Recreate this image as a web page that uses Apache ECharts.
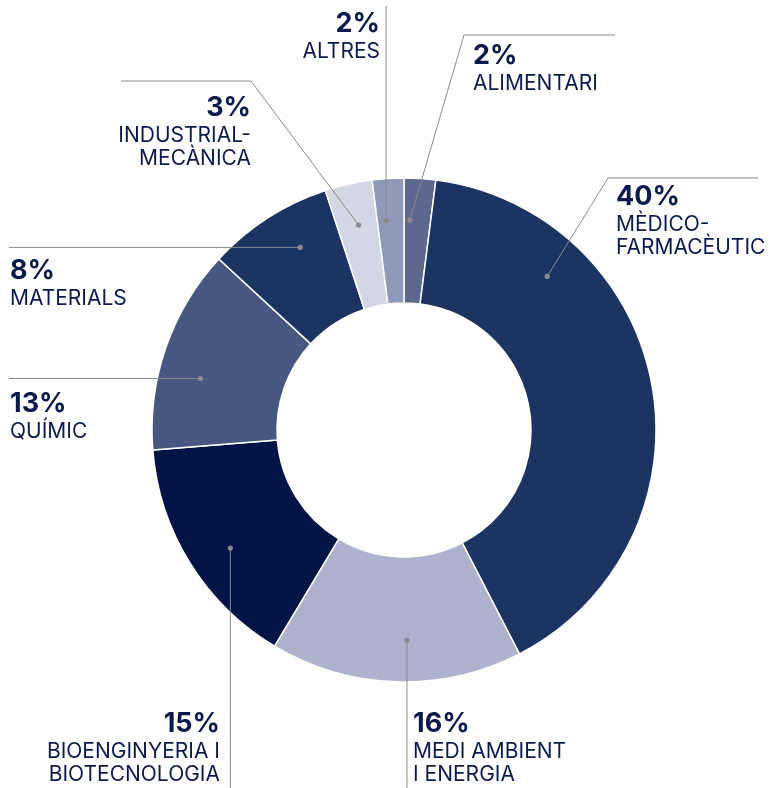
<!DOCTYPE html>
<html>
<head>
<meta charset="utf-8">
<script src="https://cdn.jsdelivr.net/npm/echarts@6/dist/echarts.min.js"></script>
<style>
html,body{margin:0;padding:0;background:#fff;}
#chart{width:771px;height:788px;}
</style>
</head>
<body>
<div id="chart"></div>
<script>
// dades
var sectors = ['ALIMENTARI', 'MÈDICO-\nFARMACÈUTIC', 'MEDI AMBIENT\nI ENERGIA', 'BIOENGINYERIA I\nBIOTECNOLOGIA', 'QUÍMIC', 'MATERIALS', 'INDUSTRIAL-\nMECÀNICA', 'ALTRES']
var percents = [2, 40, 16, 15, 13, 8, 3, 2]
var colors = ['#5d6890', '#1c3461', '#aeb2cc', '#021446', '#485781', '#1c3461', '#d3d6e5', '#8f99b8']

// posicio de les etiquetes i linies guia (angle del punt, colze, text)
var center = [404, 430]
var dotR = 210
var guides = [
	{ ang: 1.6,   elbow: [464, 35],  end: [615, 35],  text: [473, 40],  align: 'left' },
	{ ang: 43,    elbow: [608, 178], end: [758, 178], text: [616, 181], align: 'left' },
	{ ang: 179.2, end: ['x', 788],                     text: [413, 708], align: 'left' },
	{ ang: 235.8, end: ['x', 788],                     text: [220, 708], align: 'right' },
	{ ang: 284.2, end: [9, 'y'],                       text: [10, 388],  align: 'left' },
	{ ang: 330.4, end: [9, 'y'],                       text: [10, 255],  align: 'left' },
	{ ang: 347.5, elbow: [251, 81],  end: [121, 81],  text: [251, 92],  align: 'right' },
	{ ang: 355.1, end: ['x', 6],                       text: [380, 8],   align: 'right' }
]

function dotPos(g) {
	var a = g.ang * Math.PI / 180
	return [center[0] + dotR * Math.sin(a), center[1] - dotR * Math.cos(a)]
}

var chart = echarts.init(document.getElementById('chart'))

var data = sectors.map(function (name, i) {
	return { name: name, value: percents[i], itemStyle: { color: colors[i] } }
})

// linies guia + punts
var guideEls = []
guides.forEach(function (g) {
	var d = dotPos(g)
	var end = [g.end[0] === 'x' ? d[0] : g.end[0], g.end[1] === 'y' ? d[1] : g.end[1]]
	var pts = g.elbow ? [d, g.elbow, end] : [d, end]
	guideEls.push({ type: 'polyline', shape: { points: pts }, style: { stroke: '#8a8a8a', lineWidth: 1, fill: null }, z: 100 })
	guideEls.push({ type: 'circle', shape: { cx: d[0], cy: d[1], r: 2.6 }, style: { fill: '#8a8a8a' }, z: 101 })
})

var option = {
	animation: false,
	graphic: guideEls,
	series: [{
		type: 'pie',
		center: center,
		radius: [127, 252],
		startAngle: 90,
		clockwise: true,
		emphasis: { disabled: true },
		itemStyle: { borderColor: '#fff', borderWidth: 1.5 },
		label: {
			show: true,
			position: 'outside',
			overflow: 'none',
			color: '#0b1a4d',
			fontFamily: 'Inter',
			formatter: function (p) {
				var lines = p.name.split('\n').map(function (l) { return '{n|' + l + '}' })
				return '{p|' + p.value + '%}\n' + lines.join('\n')
			},
			rich: {
				p: { fontSize: 27, fontWeight: 'bold', fontFamily: 'Inter', color: '#0b1a4d', lineHeight: 32 },
				n: { fontSize: 21, fontFamily: 'Inter', color: '#0b1a4d', lineHeight: 23 }
			}
		},
		labelLine: { show: false },
		labelLayout: function (params) {
			var g = guides[params.dataIndex]
			return {
				x: g.text[0],
				y: g.text[1],
				align: g.align,
				verticalAlign: 'top'
			}
		},
		data: data
	}]
}

chart.setOption(option)
</script>
</body>
</html>
